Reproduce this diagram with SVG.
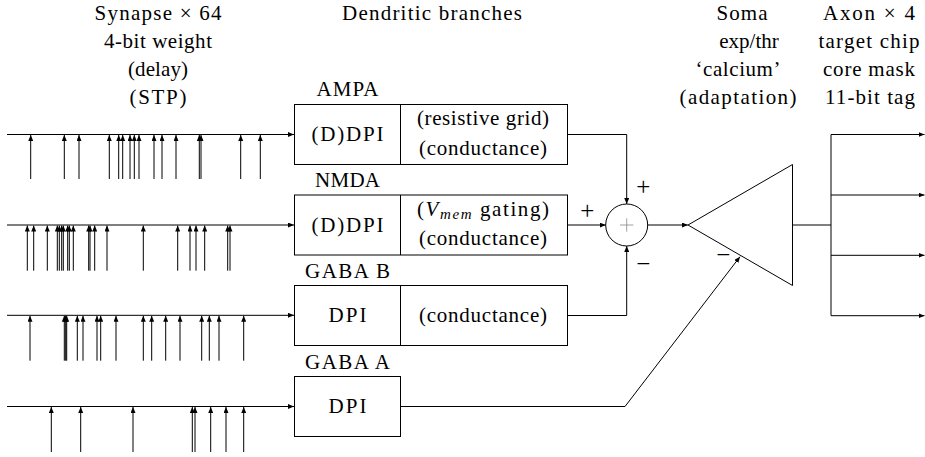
<svg xmlns="http://www.w3.org/2000/svg" width="925" height="457" viewBox="0 0 925 457">
<style>
text{font-family:'Liberation Serif','Times New Roman',serif;font-size:21px;fill:#000;text-anchor:middle}
.box{fill:#fff;stroke:#000;stroke-width:1}
.ln{fill:none;stroke:#000;stroke-width:1}
.ax{fill:none;stroke:#000;stroke-width:1;marker-end:url(#ah)}
.sp line{stroke:#000;stroke-width:1;marker-end:url(#ah)}
text.sg{font-size:25px}
</style>
<defs>
<marker id="ah" viewBox="0 0 6 5" refX="6" refY="2.5" markerWidth="6" markerHeight="5" markerUnits="userSpaceOnUse" orient="auto">
<path d="M0,0 L6,2.5 L0,5 Z" fill="#000"/>
</marker>
</defs>
<rect width="925" height="457" fill="#fff"/>

<g id="headers">
<text x="158" y="20" textLength="127" lengthAdjust="spacing">Synapse × 64</text>
<text x="158" y="48" textLength="108" lengthAdjust="spacing">4-bit weight</text>
<text x="158" y="76" textLength="60" lengthAdjust="spacing">(delay)</text>
<text x="158" y="104" textLength="57" lengthAdjust="spacing">(STP)</text>
<text x="432" y="20" textLength="180" lengthAdjust="spacing">Dendritic branches</text>
<text x="742" y="20" textLength="51" lengthAdjust="spacing">Soma</text>
<text x="749" y="48">exp/thr</text>
<text x="738" y="76" textLength="85" lengthAdjust="spacing">‘calcium’</text>
<text x="738" y="104" textLength="117" lengthAdjust="spacing">(adaptation)</text>
<text x="869" y="20" textLength="92" lengthAdjust="spacing">Axon × 4</text>
<text x="869" y="48" textLength="101" lengthAdjust="spacing">target chip</text>
<text x="869" y="76" textLength="92" lengthAdjust="spacing">core mask</text>
<text x="870" y="104" textLength="90" lengthAdjust="spacing">11-bit tag</text>
</g>

<g id="spikes1" class="sp">
<line x1="7" y1="134.5" x2="294" y2="134.5"/>
<line x1="30.7" y1="179" x2="30.7" y2="135"/>
<line x1="64.3" y1="179" x2="64.3" y2="135"/>
<line x1="79" y1="179" x2="79" y2="135"/>
<line x1="109.3" y1="179" x2="109.3" y2="135"/>
<line x1="118.7" y1="179" x2="118.7" y2="135"/>
<line x1="122.7" y1="179" x2="122.7" y2="135"/>
<line x1="130" y1="179" x2="130" y2="135"/>
<line x1="134.3" y1="179" x2="134.3" y2="135"/>
<line x1="139" y1="179" x2="139" y2="135"/>
<line x1="154" y1="179" x2="154" y2="135"/>
<line x1="162" y1="179" x2="162" y2="135"/>
<line x1="176" y1="179" x2="176" y2="135"/>
<line x1="199.3" y1="179" x2="199.3" y2="135"/>
<line x1="201" y1="179" x2="201" y2="135"/>
<line x1="240.7" y1="179" x2="240.7" y2="135"/>
<line x1="260.3" y1="179" x2="260.3" y2="135"/>
</g>
<g id="spikes2" class="sp">
<line x1="7" y1="225" x2="294" y2="225"/>
<line x1="27.3" y1="270.7" x2="27.3" y2="225.5"/>
<line x1="33.7" y1="270.7" x2="33.7" y2="225.5"/>
<line x1="47.3" y1="270.7" x2="47.3" y2="225.5"/>
<line x1="57.3" y1="270.7" x2="57.3" y2="225.5"/>
<line x1="59.3" y1="270.7" x2="59.3" y2="225.5"/>
<line x1="61.7" y1="270.7" x2="61.7" y2="225.5"/>
<line x1="63.3" y1="270.7" x2="63.3" y2="225.5"/>
<line x1="67.7" y1="270.7" x2="67.7" y2="225.5"/>
<line x1="69.3" y1="270.7" x2="69.3" y2="225.5"/>
<line x1="73.3" y1="270.7" x2="73.3" y2="225.5"/>
<line x1="88.7" y1="270.7" x2="88.7" y2="225.5"/>
<line x1="90" y1="270.7" x2="90" y2="225.5"/>
<line x1="94.7" y1="270.7" x2="94.7" y2="225.5"/>
<line x1="107" y1="270.7" x2="107" y2="225.5"/>
<line x1="143.3" y1="270.7" x2="143.3" y2="225.5"/>
<line x1="177.7" y1="270.7" x2="177.7" y2="225.5"/>
<line x1="190" y1="270.7" x2="190" y2="225.5"/>
<line x1="196" y1="270.7" x2="196" y2="225.5"/>
<line x1="204.7" y1="270.7" x2="204.7" y2="225.5"/>
<line x1="227.7" y1="270.7" x2="227.7" y2="225.5"/>
<line x1="230" y1="270.7" x2="230" y2="225.5"/>
</g>
<g id="spikes3" class="sp">
<line x1="7" y1="315.3" x2="294" y2="315.3"/>
<line x1="30" y1="360.7" x2="30" y2="315.8"/>
<line x1="64.3" y1="360.7" x2="64.3" y2="315.8"/>
<line x1="65.7" y1="360.7" x2="65.7" y2="315.8"/>
<line x1="66.7" y1="360.7" x2="66.7" y2="315.8"/>
<line x1="77.3" y1="360.7" x2="77.3" y2="315.8"/>
<line x1="83" y1="360.7" x2="83" y2="315.8"/>
<line x1="97" y1="360.7" x2="97" y2="315.8"/>
<line x1="100.7" y1="360.7" x2="100.7" y2="315.8"/>
<line x1="116" y1="360.7" x2="116" y2="315.8"/>
<line x1="143.3" y1="360.7" x2="143.3" y2="315.8"/>
<line x1="151.7" y1="360.7" x2="151.7" y2="315.8"/>
<line x1="165.7" y1="360.7" x2="165.7" y2="315.8"/>
<line x1="180" y1="360.7" x2="180" y2="315.8"/>
<line x1="201.7" y1="360.7" x2="201.7" y2="315.8"/>
<line x1="209.3" y1="360.7" x2="209.3" y2="315.8"/>
<line x1="219" y1="360.7" x2="219" y2="315.8"/>
<line x1="243.7" y1="360.7" x2="243.7" y2="315.8"/>
</g>
<g id="spikes4" class="sp">
<line x1="7" y1="406.5" x2="294" y2="406.5"/>
<line x1="51.3" y1="452" x2="51.3" y2="407"/>
<line x1="80.7" y1="452" x2="80.7" y2="407"/>
<line x1="133" y1="452" x2="133" y2="407"/>
<line x1="192.3" y1="452" x2="192.3" y2="407"/>
<line x1="195" y1="452" x2="195" y2="407"/>
<line x1="210.7" y1="452" x2="210.7" y2="407"/>
<line x1="226" y1="452" x2="226" y2="407"/>
<line x1="243.7" y1="452" x2="243.7" y2="407"/>
</g>

<g id="ampa">
<rect class="box" x="294.5" y="104.5" width="273" height="60"/>
<line class="ln" x1="400.5" y1="104.5" x2="400.5" y2="164.5"/>
<text x="347.5" y="96" textLength="62" lengthAdjust="spacing">AMPA</text>
<text x="347.5" y="141" textLength="72" lengthAdjust="spacing">(D)DPI</text>
<text x="483" y="125" textLength="132" lengthAdjust="spacing">(resistive grid)</text>
<text x="483" y="154.5" textLength="128" lengthAdjust="spacing">(conductance)</text>
</g>
<g id="nmda">
<rect class="box" x="294.5" y="195" width="273" height="60"/>
<line class="ln" x1="400.5" y1="195" x2="400.5" y2="255"/>
<text x="347.5" y="187" textLength="65" lengthAdjust="spacing">NMDA</text>
<text x="347.5" y="231.5" textLength="72" lengthAdjust="spacing">(D)DPI</text>
<text x="483" y="215.5" textLength="132" lengthAdjust="spacing">(<tspan font-style="italic">V</tspan><tspan font-style="italic" font-size="15" dy="3">mem</tspan><tspan dy="-3"> gating)</tspan></text>
<text x="483" y="245" textLength="128" lengthAdjust="spacing">(conductance)</text>
</g>
<g id="gabab">
<rect class="box" x="294.5" y="285.5" width="273" height="60"/>
<line class="ln" x1="400.5" y1="285.5" x2="400.5" y2="345.5"/>
<text x="347.5" y="278" textLength="85" lengthAdjust="spacing">GABA B</text>
<text x="347.5" y="322" textLength="38" lengthAdjust="spacing">DPI</text>
<text x="483" y="322" textLength="128" lengthAdjust="spacing">(conductance)</text>
</g>
<g id="gabaa">
<rect class="box" x="294.5" y="376.5" width="106" height="60"/>
<text x="347.5" y="369" textLength="85" lengthAdjust="spacing">GABA A</text>
<text x="347.5" y="413" textLength="38" lengthAdjust="spacing">DPI</text>
</g>

<g id="adder">
<circle cx="626.7" cy="225" r="21" fill="#fff" stroke="#000" stroke-width="1"/>
<path d="M626.7,218.3 V231.7 M620,225 H633.4" stroke="#888" stroke-width="0.8" fill="none"/>
</g>

<g id="soma">
<path d="M688,225 L792.5,164.5 L792.5,285.5 Z" fill="#fff" stroke="#000" stroke-width="1"/>
</g>

<g id="connectors">
<path class="ax" d="M567.5,134.5 H626.7 V204"/>
<path class="ax" d="M567.5,225 H605.7"/>
<path class="ax" d="M567.5,315.5 H626.7 V246"/>
<path class="ax" d="M647.7,225 H688"/>
<path class="ax" d="M400.5,406.5 H625 L740,256.7"/>
<path class="ln" d="M792.5,225 H831 M831,134.5 V315.7"/>
<path class="ax" d="M831,134.5 H924.5"/>
<path class="ax" d="M831,195 H924.5"/>
<path class="ax" d="M831,255.3 H924.5"/>
<path class="ax" d="M831,315.7 H924.5"/>
</g>

<g id="signs">
<text class="sg" x="643.3" y="195">+</text>
<text class="sg" x="587.3" y="219">+</text>
<text class="sg" x="643.3" y="271.5">−</text>
<text class="sg" x="723.3" y="263">−</text>
</g>
</svg>
